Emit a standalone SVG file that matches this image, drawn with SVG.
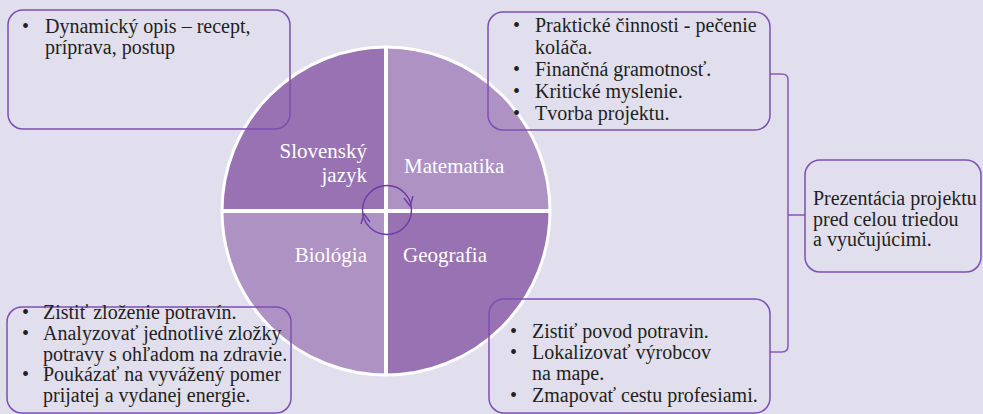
<svg xmlns="http://www.w3.org/2000/svg" width="983" height="414" viewBox="0 0 983 414">
<style>
.bg{fill:#e1deed}
.box{fill:none;stroke:#7d4fb3;stroke-width:1.5}
.con{fill:none;stroke:#8a5cc0;stroke-width:1.6}
.t{font-size:20px;fill:#231f20}
.w{font-size:21px;fill:#ffffff}
.dk{fill:#9872b2}
.lt{fill:#ae92c4}
.cyc{fill:none;stroke:#6f3ba3;stroke-width:1.4}
</style>
<rect class="bg" x="0" y="0" width="983" height="414"/>
<g font-family="'Liberation Serif', 'DejaVu Serif', serif">
<g id="wheel">
<path class="dk" d="M386,211 V47 A164,164 0 0 0 222,211 Z"/>
<path class="lt" d="M386,211 V47 A164,164 0 0 1 550,211 Z"/>
<path class="lt" d="M386,211 H222 A164,164 0 0 0 386,375 Z"/>
<path class="dk" d="M386,211 H550 A164,164 0 0 1 386,375 Z"/>
<circle cx="386" cy="211" r="164" fill="none" stroke="#ffffff" stroke-width="3"/>
<line x1="386" y1="47" x2="386" y2="375" stroke="#ffffff" stroke-width="4"/>
<line x1="222" y1="211" x2="550" y2="211" stroke="#ffffff" stroke-width="4"/>
<text class="w" x="367" y="158" text-anchor="end">Slovenský</text>
<text class="w" x="367" y="182" text-anchor="end">jazyk</text>
<text class="w" x="404" y="173">Matematika</text>
<text class="w" x="367" y="262" text-anchor="end">Biológia</text>
<text class="w" x="403" y="262">Geografia</text>
<circle class="cyc" cx="387" cy="210" r="24.5"/>
<path class="cyc" d="M404,198 L410,206 L413,196"/>
<path class="cyc" d="M370,222 L364,214 L361,224"/>
</g>
<g id="connectors">
<path class="con" d="M770,74 H782 Q788,74 788,80 V346 Q788,352 782,352 H770"/>
<line class="con" x1="788" y1="215" x2="805" y2="215"/>
</g>
<g id="slovak">
<rect class="box" x="8" y="10" width="282" height="119" rx="15"/>
<text class="t" x="22" y="33">•</text>
<text class="t" x="45" y="33">Dynamický opis – recept,</text>
<text class="t" x="45" y="54">príprava, postup</text>
</g>
<g id="math">
<rect class="box" x="488" y="12" width="282" height="118" rx="15"/>
<text class="t" x="513" y="32">•</text>
<text class="t" x="535" y="32">Praktické činnosti - pečenie</text>
<text class="t" x="535" y="54">koláča.</text>
<text class="t" x="513" y="76">•</text>
<text class="t" x="535" y="76">Finančná gramotnosť.</text>
<text class="t" x="513" y="98">•</text>
<text class="t" x="535" y="98">Kritické myslenie.</text>
<text class="t" x="513" y="120">•</text>
<text class="t" x="535" y="120">Tvorba projektu.</text>
</g>
<g id="presentation">
<rect class="box" x="805" y="160" width="176" height="112" rx="15"/>
<text class="t" x="813" y="205">Prezentácia projektu</text>
<text class="t" x="813" y="225.5">pred celou triedou</text>
<text class="t" x="813" y="246">a vyučujúcimi.</text>
</g>
<g id="bio">
<rect class="box" x="7" y="307" width="284" height="106" rx="15"/>
<text class="t" x="22" y="319">•</text>
<text class="t" x="43" y="319">Zistiť zloženie potravín.</text>
<text class="t" x="22" y="340">•</text>
<text class="t" x="43" y="340">Analyzovať jednotlivé zložky</text>
<text class="t" x="43" y="360.5">potravy s ohľadom na zdravie.</text>
<text class="t" x="22" y="381">•</text>
<text class="t" x="43" y="381">Poukázať na vyvážený pomer</text>
<text class="t" x="43" y="402">prijatej a vydanej energie.</text>
</g>
<g id="geo">
<rect class="box" x="489" y="299" width="281" height="114" rx="15"/>
<text class="t" x="510" y="338">•</text>
<text class="t" x="532" y="338">Zistiť povod potravin.</text>
<text class="t" x="510" y="359">•</text>
<text class="t" x="532" y="359">Lokalizovať výrobcov</text>
<text class="t" x="532" y="380">na mape.</text>
<text class="t" x="510" y="402">•</text>
<text class="t" x="532" y="402">Zmapovať cestu profesiami.</text>
</g>
</g>
</svg>
